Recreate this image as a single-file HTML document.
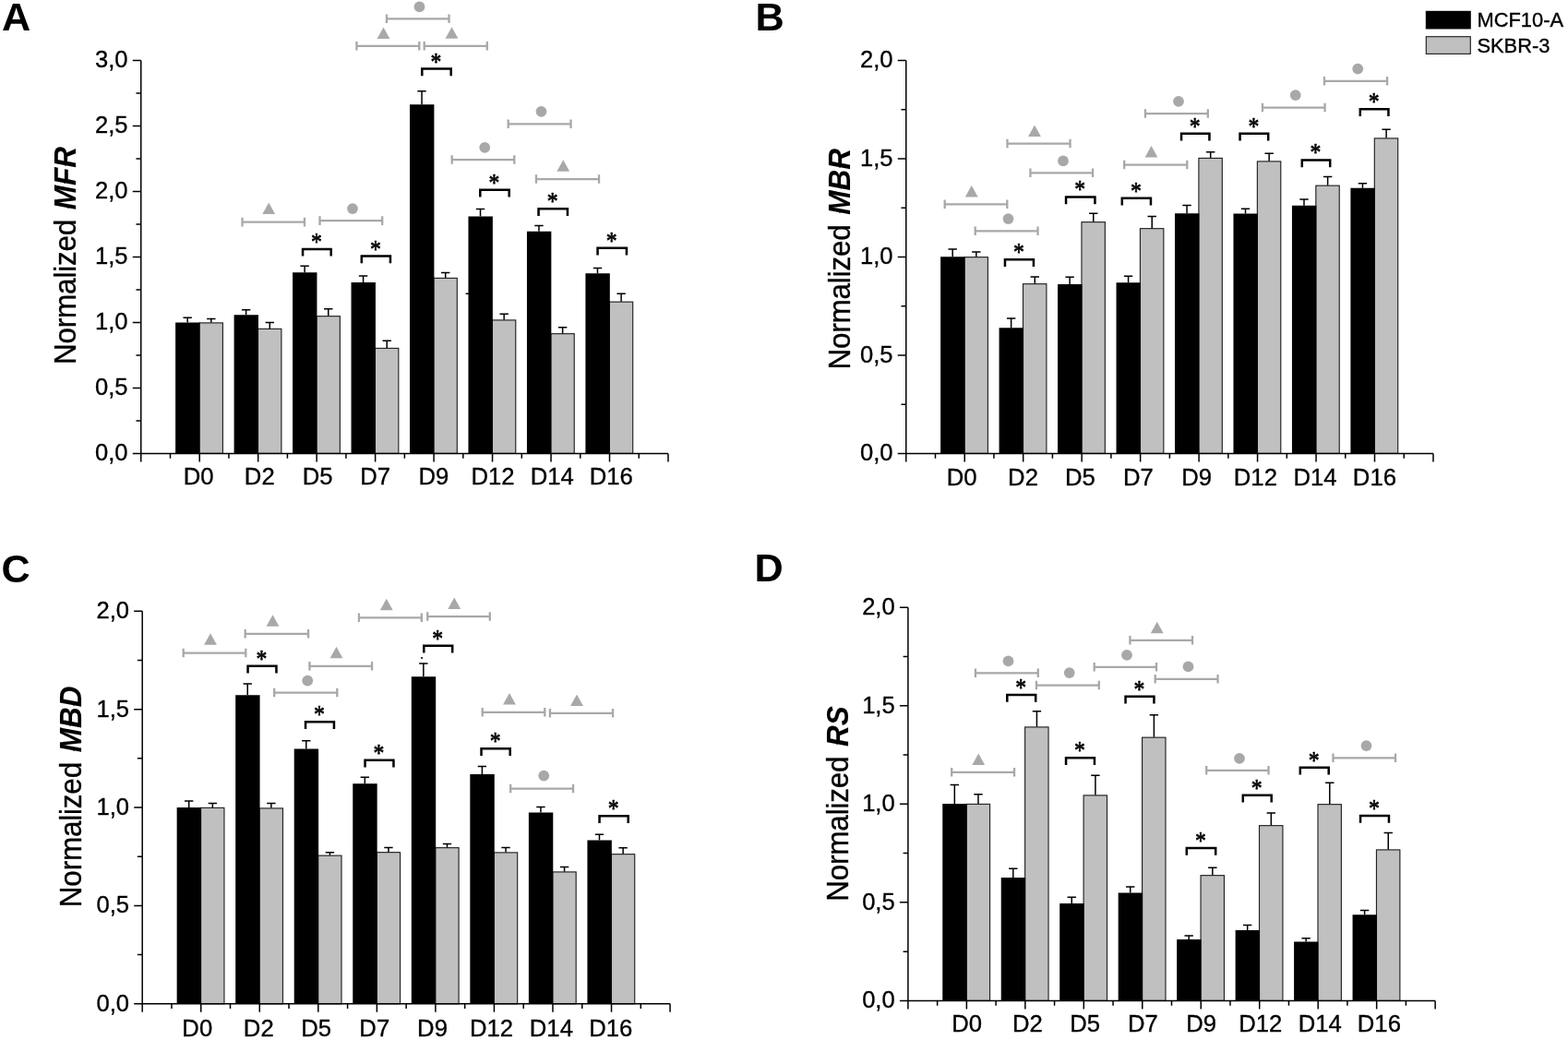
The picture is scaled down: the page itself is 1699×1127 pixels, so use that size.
<!DOCTYPE html>
<html lang="en"><head><meta charset="utf-8"><title>Normalized MFR, MBR, MBD and RS - MCF10-A vs SKBR-3</title>
<style>
html,body{margin:0;padding:0;background:#fff;}
body{width:1699px;height:1127px;overflow:hidden;}
svg{display:block;}
text{font-family:"Liberation Sans",sans-serif;fill:#000;}
.tk,.xl,.yt,.lg{stroke:#000;stroke-width:0.35px;}
.tk{font-size:25.6px;text-anchor:end;}
.xl{font-size:25.7px;text-anchor:middle;}
.yt{font-size:31.5px;text-anchor:middle;letter-spacing:-0.2px;}
.yt tspan{font-weight:bold;font-style:italic;letter-spacing:0;stroke-width:0.12px;}
.pl{font-size:42px;font-weight:bold;}
.lg{font-size:21.9px;}
.st{font-family:"Liberation Serif",serif;font-weight:normal;font-size:25px;text-anchor:middle;stroke:#000;stroke-width:0.65;stroke-linejoin:round;}
.ax{stroke:#000;stroke-width:1.5;fill:none;}
.eb{stroke:#000;stroke-width:1.5;fill:none;}
.bb{fill:#000;}
.gb{fill:#c0c0c0;stroke:#222222;stroke-width:1.15;}
.gm{stroke:#aaa8a7;stroke-width:2.3;fill:none;}
.gs{fill:#aaa8a7;}
.bk{stroke:#000;stroke-width:2.5;fill:none;stroke-linejoin:miter;}
</style></head><body>
<svg width="1699" height="1127" viewBox="0 0 1699 1127" role="img" aria-label="Bar charts of normalized MFR, MBR, MBD and RS for MCF10-A and SKBR-3 from D0 to D16">
<rect x="0" y="0" width="1699" height="1127" fill="#fff"/>
<g id="panel-A">
<rect class="gb" x="216.02" y="349.9" width="25.4" height="141.5"/>
<rect class="bb" x="190.12" y="349.5" width="26.4" height="141.9"/>
<path class="eb" d="M203.17 349.5V344.25M198.47 344.25H207.87"/>
<path class="eb" d="M228.82 349.5V345.5M224.12 345.5H233.52"/>
<rect class="gb" x="279.49" y="356.4" width="25.4" height="135"/>
<rect class="bb" x="253.59" y="341.25" width="26.4" height="150.15"/>
<path class="eb" d="M266.64 341.25V335.75M261.94 335.75H271.34"/>
<path class="eb" d="M292.29 356V349.5M287.59 349.5H296.99"/>
<rect class="gb" x="342.96" y="342.65" width="25.4" height="148.75"/>
<rect class="bb" x="317.06" y="295.25" width="26.4" height="196.15"/>
<path class="eb" d="M330.11 295.25V288.25M325.41 288.25H334.81"/>
<path class="eb" d="M355.76 342.25V334.75M351.06 334.75H360.46"/>
<rect class="gb" x="406.43" y="377.4" width="25.4" height="114"/>
<rect class="bb" x="380.53" y="306" width="26.4" height="185.4"/>
<path class="eb" d="M393.58 306V299M388.88 299H398.28"/>
<path class="eb" d="M419.23 377V369.25M414.53 369.25H423.93"/>
<rect class="gb" x="469.9" y="301.4" width="25.4" height="190"/>
<rect class="bb" x="444" y="113.25" width="26.4" height="378.15"/>
<path class="eb" d="M457.05 113.25V98.75M452.35 98.75H461.75"/>
<path class="eb" d="M482.7 301V295.5M478 295.5H487.4"/>
<rect class="gb" x="533.37" y="346.9" width="25.4" height="144.5"/>
<rect class="bb" x="507.47" y="234.5" width="26.4" height="256.9"/>
<path class="eb" d="M520.52 234.5V226.5M515.82 226.5H525.22"/>
<path class="eb" d="M546.17 346.5V340.25M541.47 340.25H550.87"/>
<rect class="gb" x="596.84" y="361.65" width="25.4" height="129.75"/>
<rect class="bb" x="570.94" y="250.75" width="26.4" height="240.65"/>
<path class="eb" d="M583.99 250.75V244.5M579.29 244.5H588.69"/>
<path class="eb" d="M609.64 361.25V354.75M604.94 354.75H614.34"/>
<rect class="gb" x="660.31" y="327.15" width="25.4" height="164.25"/>
<rect class="bb" x="634.41" y="296.25" width="26.4" height="195.15"/>
<path class="eb" d="M647.46 296.25V290.5M642.76 290.5H652.16"/>
<path class="eb" d="M673.11 326.75V318.25M668.41 318.25H677.81"/>
<path class="ax" d="M152.75 65.5V500.4M143.75 491.4H723.98M147.45 455.91H152.75M143.75 420.42H152.75M147.45 384.92H152.75M143.75 349.43H152.75M147.45 313.94H152.75M143.75 278.45H152.75M147.45 242.96H152.75M143.75 207.47H152.75M147.45 171.97H152.75M143.75 136.48H152.75M147.45 100.99H152.75M143.75 65.5H152.75M216.22 491.4V500.4M279.69 491.4V500.4M343.16 491.4V500.4M406.63 491.4V500.4M470.1 491.4V500.4M533.57 491.4V500.4M597.04 491.4V500.4M660.51 491.4V500.4M723.98 491.4V500.4M184.49 491.4V496.7M247.95 491.4V496.7M311.43 491.4V496.7M374.89 491.4V496.7M438.37 491.4V496.7M501.83 491.4V496.7M565.31 491.4V496.7M628.77 491.4V496.7M692.25 491.4V496.7"/>
<text class="tk" transform="translate(138.55 499.3) scale(1 1.025)">0,0</text>
<text class="tk" transform="translate(138.55 428.32) scale(1 1.025)">0,5</text>
<text class="tk" transform="translate(138.55 357.33) scale(1 1.025)">1,0</text>
<text class="tk" transform="translate(138.55 286.35) scale(1 1.025)">1,5</text>
<text class="tk" transform="translate(138.55 215.37) scale(1 1.025)">2,0</text>
<text class="tk" transform="translate(138.55 144.38) scale(1 1.025)">2,5</text>
<text class="tk" transform="translate(138.55 73.4) scale(1 1.025)">3,0</text>
<text class="xl" transform="translate(215.22 524.8) scale(1 1.025)">D0</text>
<text class="xl" transform="translate(281.29 524.8) scale(1 1.025)">D2</text>
<text class="xl" transform="translate(344.16 524.8) scale(1 1.025)">D5</text>
<text class="xl" transform="translate(406.63 524.8) scale(1 1.025)">D7</text>
<text class="xl" transform="translate(469.9 524.8) scale(1 1.025)">D9</text>
<text class="xl" transform="translate(533.97 524.8) scale(1 1.025)">D12</text>
<text class="xl" transform="translate(598.24 524.8) scale(1 1.025)">D14</text>
<text class="xl" transform="translate(662.31 524.8) scale(1 1.025)">D16</text>
<text class="yt" transform="translate(81.8 277) rotate(-90) scale(1 1.025)">Normalized <tspan dx="2.2">MFR</tspan></text>
<text class="pl" transform="translate(2 33.3) scale(1.03 1.02)">A</text>
<path class="gm" d="M261.5 240.6H331M262.5 235.8V245.4M330 235.8V245.4"/>
<path class="gs" d="M291.25 219.6L298.15 232.1H284.35Z"/>
<path class="gm" d="M345.5 239.1H415.2M346.5 234.3V243.9M414.2 234.3V243.9"/>
<circle class="gs" cx="382" cy="226.1" r="5.9"/>
<path class="gm" d="M385.45 49.8H455.3M386.45 45V54.6M454.3 45V54.6"/>
<path class="gs" d="M415.5 29.4L422.4 41.9H408.6Z"/>
<path class="gm" d="M417.95 20.3H487.55M418.95 15.5V25.1M486.55 15.5V25.1"/>
<circle class="gs" cx="454.5" cy="7.3" r="5.9"/>
<path class="gm" d="M458.7 49.8H528.8M459.7 45V54.6M527.8 45V54.6"/>
<path class="gs" d="M489.5 29.2L496.4 41.7H482.6Z"/>
<path class="gm" d="M488.7 173.05H558.3M489.7 168.25V177.85M557.3 168.25V177.85"/>
<circle class="gs" cx="525.25" cy="159.8" r="5.9"/>
<path class="gm" d="M549.7 134.3H619.55M550.7 129.5V139.1M618.55 129.5V139.1"/>
<circle class="gs" cx="586.5" cy="120.8" r="5.9"/>
<path class="gm" d="M579.95 194.05H650.05M580.95 189.25V198.85M649.05 189.25V198.85"/>
<path class="gs" d="M610.25 173.2L617.15 185.7H603.35Z"/>
<path class="bk" d="M328.05 277.5V269.9H358.7V277.5"/>
<text class="st" transform="translate(342.88 270.8) scale(0.95 1.07)" x="0" y="0">*</text>
<path class="bk" d="M391.8 285.2V277.6H422.95V285.2"/>
<text class="st" transform="translate(406.88 278.5) scale(0.95 1.07)" x="0" y="0">*</text>
<path class="bk" d="M457.3 82.2V74.6H488.7V82.2"/>
<text class="st" transform="translate(472.5 75.5) scale(0.95 1.07)" x="0" y="0">*</text>
<path class="bk" d="M520.3 213.4V205.8H551.7V213.4"/>
<text class="st" transform="translate(535.5 206.7) scale(0.95 1.07)" x="0" y="0">*</text>
<path class="bk" d="M583.55 233.9V226.3H614.95V233.9"/>
<text class="st" transform="translate(598.75 227.2) scale(0.95 1.07)" x="0" y="0">*</text>
<path class="bk" d="M647.55 276.4V268.8H678.95V276.4"/>
<text class="st" transform="translate(662.75 269.7) scale(0.95 1.07)" x="0" y="0">*</text>
</g>
<g id="panel-B">
<rect class="gb" x="1045.02" y="278.65" width="25.4" height="212.75"/>
<rect class="bb" x="1019.12" y="278.25" width="26.4" height="213.15"/>
<path class="eb" d="M1032.17 278.25V270M1027.47 270H1036.87"/>
<path class="eb" d="M1057.82 278.25V273M1053.12 273H1062.52"/>
<rect class="gb" x="1108.49" y="307.65" width="25.4" height="183.75"/>
<rect class="bb" x="1082.59" y="355.25" width="26.4" height="136.15"/>
<path class="eb" d="M1095.64 355.25V345M1090.94 345H1100.34"/>
<path class="eb" d="M1121.29 307.25V300M1116.59 300H1125.99"/>
<rect class="gb" x="1171.96" y="240.65" width="25.4" height="250.75"/>
<rect class="bb" x="1146.06" y="308" width="26.4" height="183.4"/>
<path class="eb" d="M1159.11 308V300.25M1154.41 300.25H1163.81"/>
<path class="eb" d="M1184.76 240.25V231.25M1180.06 231.25H1189.46"/>
<rect class="gb" x="1235.43" y="247.65" width="25.4" height="243.75"/>
<rect class="bb" x="1209.53" y="306.25" width="26.4" height="185.15"/>
<path class="eb" d="M1222.58 306.25V299.25M1217.88 299.25H1227.28"/>
<path class="eb" d="M1248.23 247.25V234.5M1243.53 234.5H1252.93"/>
<rect class="gb" x="1298.9" y="171.4" width="25.4" height="320"/>
<rect class="bb" x="1273" y="231.25" width="26.4" height="260.15"/>
<path class="eb" d="M1286.05 231.25V222.5M1281.35 222.5H1290.75"/>
<path class="eb" d="M1311.7 171V164.75M1307 164.75H1316.4"/>
<rect class="gb" x="1362.37" y="174.9" width="25.4" height="316.5"/>
<rect class="bb" x="1336.47" y="231.5" width="26.4" height="259.9"/>
<path class="eb" d="M1349.52 231.5V226.25M1344.82 226.25H1354.22"/>
<path class="eb" d="M1375.17 174.5V166.25M1370.47 166.25H1379.87"/>
<rect class="gb" x="1425.84" y="201.15" width="25.4" height="290.25"/>
<rect class="bb" x="1399.94" y="222.75" width="26.4" height="268.65"/>
<path class="eb" d="M1412.99 222.75V216M1408.29 216H1417.69"/>
<path class="eb" d="M1438.64 200.75V191.5M1433.94 191.5H1443.34"/>
<rect class="gb" x="1489.31" y="149.9" width="25.4" height="341.5"/>
<rect class="bb" x="1463.41" y="203.75" width="26.4" height="287.65"/>
<path class="eb" d="M1476.46 203.75V198.75M1471.76 198.75H1481.16"/>
<path class="eb" d="M1502.11 149.5V140.25M1497.41 140.25H1506.81"/>
<path class="ax" d="M981.75 65.5V500.4M972.75 491.4H1552.98M976.45 438.16H981.75M972.75 384.92H981.75M976.45 331.69H981.75M972.75 278.45H981.75M976.45 225.21H981.75M972.75 171.98H981.75M976.45 118.74H981.75M972.75 65.5H981.75M1045.22 491.4V500.4M1108.69 491.4V500.4M1172.16 491.4V500.4M1235.63 491.4V500.4M1299.1 491.4V500.4M1362.57 491.4V500.4M1426.04 491.4V500.4M1489.51 491.4V500.4M1552.98 491.4V500.4M1013.49 491.4V496.7M1076.95 491.4V496.7M1140.42 491.4V496.7M1203.89 491.4V496.7M1267.37 491.4V496.7M1330.84 491.4V496.7M1394.31 491.4V496.7M1457.78 491.4V496.7M1521.24 491.4V496.7"/>
<text class="tk" transform="translate(967.55 499.3) scale(1 1.025)">0,0</text>
<text class="tk" transform="translate(967.55 392.82) scale(1 1.025)">0,5</text>
<text class="tk" transform="translate(967.55 286.35) scale(1 1.025)">1,0</text>
<text class="tk" transform="translate(967.55 179.88) scale(1 1.025)">1,5</text>
<text class="tk" transform="translate(967.55 73.4) scale(1 1.025)">2,0</text>
<text class="xl" transform="translate(1042.12 526.2) scale(1 1.025)">D0</text>
<text class="xl" transform="translate(1108.49 526.2) scale(1 1.025)">D2</text>
<text class="xl" transform="translate(1170.46 526.2) scale(1 1.025)">D5</text>
<text class="xl" transform="translate(1233.33 526.2) scale(1 1.025)">D7</text>
<text class="xl" transform="translate(1296.6 526.2) scale(1 1.025)">D9</text>
<text class="xl" transform="translate(1360.37 526.2) scale(1 1.025)">D12</text>
<text class="xl" transform="translate(1425.04 526.2) scale(1 1.025)">D14</text>
<text class="xl" transform="translate(1489.41 526.2) scale(1 1.025)">D16</text>
<text class="yt" transform="translate(920.8 280.8) rotate(-90) scale(1 1.025)">Normalized <tspan dx="2.2">MBR</tspan></text>
<text class="pl" transform="translate(818.4 33) scale(1.03 1.02)">B</text>
<path class="gm" d="M1022.7 221.3H1092.3M1023.7 216.5V226.1M1091.3 216.5V226.1"/>
<path class="gs" d="M1052.75 201L1059.65 213.5H1045.85Z"/>
<path class="gm" d="M1055.7 250.3H1125.55M1056.7 245.5V255.1M1124.55 245.5V255.1"/>
<circle class="gs" cx="1092.5" cy="237.05" r="5.9"/>
<path class="gm" d="M1090.45 155.55H1160.55M1091.45 150.75V160.35M1159.55 150.75V160.35"/>
<path class="gs" d="M1121 135.4L1127.9 147.9H1114.1Z"/>
<path class="gm" d="M1115.45 187.3H1185.05M1116.45 182.5V192.1M1184.05 182.5V192.1"/>
<circle class="gs" cx="1152" cy="174.3" r="5.9"/>
<path class="gm" d="M1217.2 178.55H1287.3M1218.2 173.75V183.35M1286.3 173.75V183.35"/>
<path class="gs" d="M1247.5 158L1254.4 170.5H1240.6Z"/>
<path class="gm" d="M1239.95 123.05H1309.8M1240.95 118.25V127.85M1308.8 118.25V127.85"/>
<circle class="gs" cx="1277" cy="109.8" r="5.9"/>
<path class="gm" d="M1366.95 116.55H1436.55M1367.95 111.75V121.35M1435.55 111.75V121.35"/>
<circle class="gs" cx="1403.75" cy="103.05" r="5.9"/>
<path class="gm" d="M1433.95 87.8H1504.05M1434.95 83V92.6M1503.05 83V92.6"/>
<circle class="gs" cx="1471.25" cy="74.55" r="5.9"/>
<path class="bk" d="M1088.95 288.9V281.3H1119.95V288.9"/>
<text class="st" transform="translate(1103.95 282.2) scale(0.95 1.07)" x="0" y="0">*</text>
<path class="bk" d="M1155.05 221.15V213.55H1186.45V221.15"/>
<text class="st" transform="translate(1170.25 214.45) scale(0.95 1.07)" x="0" y="0">*</text>
<path class="bk" d="M1215.8 222.4V214.8H1246.95V222.4"/>
<text class="st" transform="translate(1230.88 215.7) scale(0.95 1.07)" x="0" y="0">*</text>
<path class="bk" d="M1280.05 152.4V144.8H1310.45V152.4"/>
<text class="st" transform="translate(1294.75 145.7) scale(0.95 1.07)" x="0" y="0">*</text>
<path class="bk" d="M1343.55 152.4V144.8H1374.2V152.4"/>
<text class="st" transform="translate(1358.38 145.7) scale(0.95 1.07)" x="0" y="0">*</text>
<path class="bk" d="M1410.8 181.15V173.55H1441.2V181.15"/>
<text class="st" transform="translate(1425.5 174.45) scale(0.95 1.07)" x="0" y="0">*</text>
<path class="bk" d="M1473.8 125.9V118.3H1504.45V125.9"/>
<text class="st" transform="translate(1488.62 119.2) scale(0.95 1.07)" x="0" y="0">*</text>
</g>
<g id="panel-C">
<rect class="gb" x="217.54" y="875.4" width="25.4" height="212.4"/>
<rect class="bb" x="191.64" y="875" width="26.4" height="212.8"/>
<path class="eb" d="M204.69 875V868M199.99 868H209.39"/>
<path class="eb" d="M230.34 875V870.5M225.64 870.5H235.04"/>
<rect class="gb" x="281.08" y="875.9" width="25.4" height="211.9"/>
<rect class="bb" x="255.18" y="753.25" width="26.4" height="334.55"/>
<path class="eb" d="M268.23 753.25V741M263.53 741H272.93"/>
<path class="eb" d="M293.88 875.5V870.5M289.18 870.5H298.58"/>
<rect class="gb" x="344.62" y="927.15" width="25.4" height="160.65"/>
<rect class="bb" x="318.72" y="811.5" width="26.4" height="276.3"/>
<path class="eb" d="M331.77 811.5V802.75M327.07 802.75H336.47"/>
<path class="eb" d="M357.42 926.75V923.75M352.72 923.75H362.12"/>
<rect class="gb" x="408.16" y="923.65" width="25.4" height="164.15"/>
<rect class="bb" x="382.26" y="849.2" width="26.4" height="238.6"/>
<path class="eb" d="M395.31 849.2V842.3M390.61 842.3H400.01"/>
<path class="eb" d="M420.96 923.25V918.5M416.26 918.5H425.66"/>
<rect class="gb" x="471.7" y="918.65" width="25.4" height="169.15"/>
<rect class="bb" x="445.8" y="733.25" width="26.4" height="354.55"/>
<path class="eb" d="M458.85 733.25V719M454.15 719H463.55"/>
<path class="eb" d="M484.5 918.25V914.5M479.8 914.5H489.2"/>
<rect class="gb" x="535.24" y="923.9" width="25.4" height="163.9"/>
<rect class="bb" x="509.34" y="839" width="26.4" height="248.8"/>
<path class="eb" d="M522.39 839V830.5M517.69 830.5H527.09"/>
<path class="eb" d="M548.04 923.5V918.5M543.34 918.5H552.74"/>
<rect class="gb" x="598.78" y="944.9" width="25.4" height="142.9"/>
<rect class="bb" x="572.88" y="880.5" width="26.4" height="207.3"/>
<path class="eb" d="M585.93 880.5V874.5M581.23 874.5H590.63"/>
<path class="eb" d="M611.58 944.5V939.5M606.88 939.5H616.28"/>
<rect class="gb" x="662.32" y="925.65" width="25.4" height="162.15"/>
<rect class="bb" x="636.42" y="910.5" width="26.4" height="177.3"/>
<path class="eb" d="M649.47 910.5V904.25M644.77 904.25H654.17"/>
<path class="eb" d="M675.12 925.25V918.75M670.42 918.75H679.82"/>
<path class="ax" d="M154.2 662.25V1096.8M145.2 1087.8H726.06M148.9 1034.61H154.2M145.2 981.41H154.2M148.9 928.22H154.2M145.2 875.02H154.2M148.9 821.83H154.2M145.2 768.64H154.2M148.9 715.44H154.2M145.2 662.25H154.2M217.74 1087.8V1096.8M281.28 1087.8V1096.8M344.82 1087.8V1096.8M408.36 1087.8V1096.8M471.9 1087.8V1096.8M535.44 1087.8V1096.8M598.98 1087.8V1096.8M662.52 1087.8V1096.8M726.06 1087.8V1096.8M185.97 1087.8V1093.1M249.51 1087.8V1093.1M313.05 1087.8V1093.1M376.59 1087.8V1093.1M440.13 1087.8V1093.1M503.67 1087.8V1093.1M567.21 1087.8V1093.1M630.75 1087.8V1093.1M694.29 1087.8V1093.1"/>
<text class="tk" transform="translate(140 1095.7) scale(1 1.025)">0,0</text>
<text class="tk" transform="translate(140 989.31) scale(1 1.025)">0,5</text>
<text class="tk" transform="translate(140 882.92) scale(1 1.025)">1,0</text>
<text class="tk" transform="translate(140 776.54) scale(1 1.025)">1,5</text>
<text class="tk" transform="translate(140 670.15) scale(1 1.025)">2,0</text>
<text class="xl" transform="translate(213.74 1123.1) scale(1 1.025)">D0</text>
<text class="xl" transform="translate(280.28 1123.1) scale(1 1.025)">D2</text>
<text class="xl" transform="translate(342.62 1123.1) scale(1 1.025)">D5</text>
<text class="xl" transform="translate(405.76 1123.1) scale(1 1.025)">D7</text>
<text class="xl" transform="translate(468.5 1123.1) scale(1 1.025)">D9</text>
<text class="xl" transform="translate(532.54 1123.1) scale(1 1.025)">D12</text>
<text class="xl" transform="translate(597.38 1123.1) scale(1 1.025)">D14</text>
<text class="xl" transform="translate(661.72 1123.1) scale(1 1.025)">D16</text>
<text class="yt" transform="translate(87.5 863.4) rotate(-90) scale(1 1.025)">Normalized <tspan dx="2.2">MBD</tspan></text>
<text class="pl" transform="translate(1.5 630.5) scale(1.03 1.02)">C</text>
<path class="gm" d="M197.7 707.55H267.3M198.7 702.75V712.35M266.3 702.75V712.35"/>
<path class="gs" d="M228 686.3L234.9 698.8H221.1Z"/>
<path class="gm" d="M264.7 686.8H335.05M265.7 682V691.6M334.05 682V691.6"/>
<path class="gs" d="M295.5 666.3L302.4 678.8H288.6Z"/>
<path class="gm" d="M334.45 721.8H404.05M335.45 717V726.6M403.05 717V726.6"/>
<path class="gs" d="M364.5 700.8L371.4 713.3H357.6Z"/>
<path class="gm" d="M296.2 750.55H366.3M297.2 745.75V755.35M365.3 745.75V755.35"/>
<circle class="gs" cx="333.25" cy="737.55" r="5.9"/>
<path class="gm" d="M387.95 669.3H457.8M388.95 664.5V674.1M456.8 664.5V674.1"/>
<path class="gs" d="M418.75 648.8L425.65 661.3H411.85Z"/>
<path class="gm" d="M462.2 668.05H531.8M463.2 663.25V672.85M530.8 663.25V672.85"/>
<path class="gs" d="M492.25 647.55L499.15 660.05H485.35Z"/>
<path class="gm" d="M521.7 771.8H591.3M522.7 767V776.6M590.3 767V776.6"/>
<path class="gs" d="M552 750.9L558.9 763.4H545.1Z"/>
<path class="gm" d="M594.95 772.8H665.05M595.95 768V777.6M664.05 768V777.6"/>
<path class="gs" d="M625 752.4L631.9 764.9H618.1Z"/>
<path class="gm" d="M552.2 854.55H622.05M553.2 849.75V859.35M621.05 849.75V859.35"/>
<circle class="gs" cx="589.25" cy="840.55" r="5.9"/>
<path class="bk" d="M268.55 729.4V721.8H299.45V729.4"/>
<text class="st" transform="translate(283.5 722.7) scale(0.95 1.07)" x="0" y="0">*</text>
<path class="bk" d="M331.05 789.9V782.3H361.95V789.9"/>
<text class="st" transform="translate(346 783.2) scale(0.95 1.07)" x="0" y="0">*</text>
<path class="bk" d="M395.55 831.4V823.8H426.45V831.4"/>
<text class="st" transform="translate(410.5 824.7) scale(0.95 1.07)" x="0" y="0">*</text>
<path class="bk" d="M459.3 707.4V699.8H490.2V707.4"/>
<text class="st" transform="translate(474.25 700.7) scale(0.95 1.07)" x="0" y="0">*</text>
<path class="bk" d="M521.55 818.9V811.3H552.7V818.9"/>
<text class="st" transform="translate(536.62 812.2) scale(0.95 1.07)" x="0" y="0">*</text>
<path class="bk" d="M649.55 891.9V884.3H680.7V891.9"/>
<text class="st" transform="translate(664.62 885.2) scale(0.95 1.07)" x="0" y="0">*</text>
</g>
<g id="panel-D">
<rect class="gb" x="1047.17" y="871.4" width="25.4" height="213"/>
<rect class="bb" x="1021.27" y="871" width="26.4" height="213.4"/>
<path class="eb" d="M1034.32 871V850.5M1029.62 850.5H1039.02"/>
<path class="eb" d="M1059.97 871V860.75M1055.27 860.75H1064.67"/>
<rect class="gb" x="1110.64" y="787.9" width="25.4" height="296.5"/>
<rect class="bb" x="1084.74" y="951" width="26.4" height="133.4"/>
<path class="eb" d="M1097.79 951V941.25M1093.09 941.25H1102.49"/>
<path class="eb" d="M1123.44 787.5V770.75M1118.74 770.75H1128.14"/>
<rect class="gb" x="1174.11" y="861.9" width="25.4" height="222.5"/>
<rect class="bb" x="1148.21" y="979" width="26.4" height="105.4"/>
<path class="eb" d="M1161.26 979V972.25M1156.56 972.25H1165.96"/>
<path class="eb" d="M1186.91 861.5V840.2M1182.21 840.2H1191.61"/>
<rect class="gb" x="1237.58" y="799.15" width="25.4" height="285.25"/>
<rect class="bb" x="1211.68" y="967.5" width="26.4" height="116.9"/>
<path class="eb" d="M1224.73 967.5V961M1220.03 961H1229.43"/>
<path class="eb" d="M1250.38 798.75V774.75M1245.68 774.75H1255.08"/>
<rect class="gb" x="1301.05" y="948.65" width="25.4" height="135.75"/>
<rect class="bb" x="1275.15" y="1018" width="26.4" height="66.4"/>
<path class="eb" d="M1288.2 1018V1014M1283.5 1014H1292.9"/>
<path class="eb" d="M1313.85 948.25V940.25M1309.15 940.25H1318.55"/>
<rect class="gb" x="1364.52" y="894.65" width="25.4" height="189.75"/>
<rect class="bb" x="1338.62" y="1008" width="26.4" height="76.4"/>
<path class="eb" d="M1351.67 1008V1002.5M1346.97 1002.5H1356.37"/>
<path class="eb" d="M1377.32 894.25V881M1372.62 881H1382.02"/>
<rect class="gb" x="1427.99" y="871.65" width="25.4" height="212.75"/>
<rect class="bb" x="1402.09" y="1020.5" width="26.4" height="63.9"/>
<path class="eb" d="M1415.14 1020.5V1016.75M1410.44 1016.75H1419.84"/>
<path class="eb" d="M1440.79 871.25V848.25M1436.09 848.25H1445.49"/>
<rect class="gb" x="1491.46" y="920.9" width="25.4" height="163.5"/>
<rect class="bb" x="1465.56" y="991.25" width="26.4" height="93.15"/>
<path class="eb" d="M1478.61 991.25V986.5M1473.91 986.5H1483.31"/>
<path class="eb" d="M1504.26 920.5V902.5M1499.56 902.5H1508.96"/>
<path class="ax" d="M983.9 658.25V1093.4M974.9 1084.4H1555.13M978.6 1031.13H983.9M974.9 977.86H983.9M978.6 924.59H983.9M974.9 871.33H983.9M978.6 818.06H983.9M974.9 764.79H983.9M978.6 711.52H983.9M974.9 658.25H983.9M1047.37 1084.4V1093.4M1110.84 1084.4V1093.4M1174.31 1084.4V1093.4M1237.78 1084.4V1093.4M1301.25 1084.4V1093.4M1364.72 1084.4V1093.4M1428.19 1084.4V1093.4M1491.66 1084.4V1093.4M1555.13 1084.4V1093.4M1015.63 1084.4V1089.7M1079.11 1084.4V1089.7M1142.58 1084.4V1089.7M1206.05 1084.4V1089.7M1269.51 1084.4V1089.7M1332.98 1084.4V1089.7M1396.45 1084.4V1089.7M1459.92 1084.4V1089.7M1523.39 1084.4V1089.7"/>
<text class="tk" transform="translate(969.7 1092.3) scale(1 1.025)">0,0</text>
<text class="tk" transform="translate(969.7 985.76) scale(1 1.025)">0,5</text>
<text class="tk" transform="translate(969.7 879.23) scale(1 1.025)">1,0</text>
<text class="tk" transform="translate(969.7 772.69) scale(1 1.025)">1,5</text>
<text class="tk" transform="translate(969.7 666.15) scale(1 1.025)">2,0</text>
<text class="xl" transform="translate(1047.67 1118.1) scale(1 1.025)">D0</text>
<text class="xl" transform="translate(1113.34 1118.1) scale(1 1.025)">D2</text>
<text class="xl" transform="translate(1175.61 1118.1) scale(1 1.025)">D5</text>
<text class="xl" transform="translate(1238.48 1118.1) scale(1 1.025)">D7</text>
<text class="xl" transform="translate(1301.55 1118.1) scale(1 1.025)">D9</text>
<text class="xl" transform="translate(1365.72 1118.1) scale(1 1.025)">D12</text>
<text class="xl" transform="translate(1430.19 1118.1) scale(1 1.025)">D14</text>
<text class="xl" transform="translate(1494.36 1118.1) scale(1 1.025)">D16</text>
<text class="yt" transform="translate(918.75 871) rotate(-90) scale(1 1.025)">Normalized <tspan dx="2.2">RS</tspan></text>
<text class="pl" transform="translate(817.5 629.5) scale(1.03 1.02)">D</text>
<path class="gm" d="M1030.2 836.8H1100.05M1031.2 832V841.6M1099.05 832V841.6"/>
<path class="gs" d="M1060.25 816.55L1067.15 829.05H1053.35Z"/>
<path class="gm" d="M1055.95 729.3H1125.8M1056.95 724.5V734.1M1124.8 724.5V734.1"/>
<circle class="gs" cx="1092.5" cy="716.3" r="5.9"/>
<path class="gm" d="M1121.95 742.55H1191.8M1122.95 737.75V747.35M1190.8 737.75V747.35"/>
<circle class="gs" cx="1158.75" cy="729.05" r="5.9"/>
<path class="gm" d="M1184.7 722.8H1254.05M1185.7 718V727.6M1253.05 718V727.6"/>
<circle class="gs" cx="1221" cy="709.8" r="5.9"/>
<path class="gm" d="M1223.45 693.8H1293.05M1224.45 689V698.6M1292.05 689V698.6"/>
<path class="gs" d="M1253.75 673.8L1260.65 686.3H1246.85Z"/>
<path class="gm" d="M1250.7 735.8H1320.55M1251.7 731V740.6M1319.55 731V740.6"/>
<circle class="gs" cx="1287.5" cy="722.3" r="5.9"/>
<path class="gm" d="M1306.2 834.8H1375.55M1307.2 830V839.6M1374.55 830V839.6"/>
<circle class="gs" cx="1343" cy="821.8" r="5.9"/>
<path class="gm" d="M1443.45 821.3H1513.05M1444.45 816.5V826.1M1512.05 816.5V826.1"/>
<circle class="gs" cx="1480.5" cy="808.05" r="5.9"/>
<path class="bk" d="M1091.3 760.65V753.05H1122.2V760.65"/>
<text class="st" transform="translate(1106.25 753.95) scale(0.95 1.07)" x="0" y="0">*</text>
<path class="bk" d="M1155.05 828.9V821.3H1185.95V828.9"/>
<text class="st" transform="translate(1170 822.2) scale(0.95 1.07)" x="0" y="0">*</text>
<path class="bk" d="M1219.55 762.4V754.8H1250.45V762.4"/>
<text class="st" transform="translate(1234.5 755.7) scale(0.95 1.07)" x="0" y="0">*</text>
<path class="bk" d="M1285.8 926.65V919.05H1317.2V926.65"/>
<text class="st" transform="translate(1301 919.95) scale(0.95 1.07)" x="0" y="0">*</text>
<path class="bk" d="M1346.8 869.4V861.8H1377.7V869.4"/>
<text class="st" transform="translate(1361.75 862.7) scale(0.95 1.07)" x="0" y="0">*</text>
<path class="bk" d="M1408.8 839.4V831.8H1439.7V839.4"/>
<text class="st" transform="translate(1423.75 832.7) scale(0.95 1.07)" x="0" y="0">*</text>
<path class="bk" d="M1474.05 891.65V884.05H1504.95V891.65"/>
<text class="st" transform="translate(1489 884.95) scale(0.95 1.07)" x="0" y="0">*</text>
</g>
<path class="eb" d="M504.6 318.3H508.2"/>
<path class="eb" d="M456 713H458.2"/>
<g id="legend">
<rect class="bb" x="1544.8" y="11.8" width="49" height="19.7"/>
<rect class="gb" x="1545.3" y="39.7" width="48" height="18.7"/>
<text class="lg" transform="translate(1600.4 29.2) scale(1 1.025)">MCF10-A</text>
<text class="lg" transform="translate(1600.4 56.5) scale(1 1.025)">SKBR-3</text>
</g>
</svg>
</body></html>
